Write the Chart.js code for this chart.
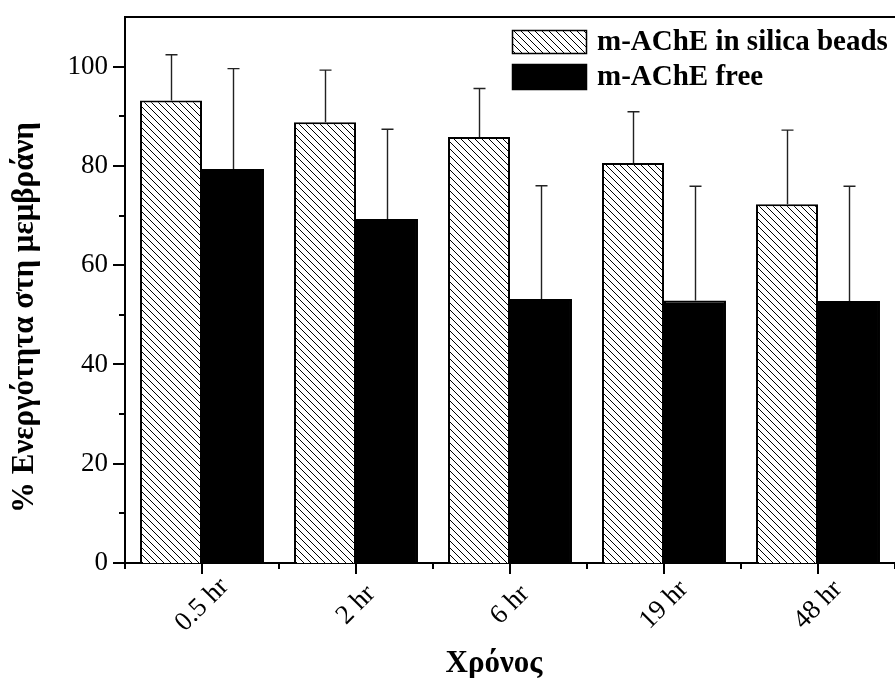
<!DOCTYPE html>
<html><head><meta charset="utf-8">
<script src="https://cdn.jsdelivr.net/npm/chart.js@4"></script>
<style>html,body{margin:0;padding:0;background:#fff}#wrap{width:895px;height:678px}</style>
</head><body><div id="wrap"><canvas id="c" width="895" height="678"></canvas></div>
<script>
const categories = ['0.5 hr', '2 hr', '6 hr', '19 hr', '48 hr'];
const silicaValues = [93.2, 88.8, 85.8, 80.6, 72.3];
const silicaErrors = [9.2, 10.5, 9.8, 10.3, 14.9];
const freeValues = [79.4, 69.3, 53.2, 52.9, 52.8];
const freeErrors = [20.2, 18.1, 22.8, 23.0, 23.1];
const yTickValues = [0, 20, 40, 60, 80, 100];
const seriesLabels = ['m-AChE in silica beads', 'm-AChE free'];
const xTitle = 'Χρόνος';
const yTitle = '% Ενεργότητα στη μεμβράνη';

const SERIF = '"Liberation Serif", "Times New Roman", serif';

function makeHatch() {
  const s = 7;
  const c = document.createElement('canvas');
  c.width = s; c.height = s;
  const g = c.getContext('2d');
  g.fillStyle = '#fff'; g.fillRect(0, 0, s, s);
  g.strokeStyle = '#000'; g.lineWidth = 1;
  g.beginPath();
  g.moveTo(-1, -1); g.lineTo(s + 1, s + 1);
  g.moveTo(-1, s - 1); g.lineTo(1, s + 1);
  g.moveTo(s - 1, -1); g.lineTo(s + 1, 1);
  g.stroke();
  return g.createPattern(c, 'repeat');
}
const hatch = makeHatch();

const deco = {
  id: 'deco',
  afterDraw(chart) {
    const ctx = chart.ctx;
    const a = chart.chartArea;
    const xs = chart.scales.x, ys = chart.scales.y;
    ctx.save();
    ctx.strokeStyle = '#000';
    ctx.lineWidth = 2;
    // frame top
    ctx.beginPath();
    ctx.moveTo(a.left - 1, a.top); ctx.lineTo(a.right, a.top);
    ctx.stroke();
    // y ticks
    ctx.beginPath();
    ys.ticks.forEach(t => {
      if (t.value >= ys.max) return;
      const py = Math.round(ys.getPixelForValue(t.value));
      const len = yTickValues.includes(t.value) ? 12 : 6;
      ctx.moveTo(a.left, py); ctx.lineTo(a.left - len, py);
    });
    // x ticks
    const n = categories.length;
    const step = (xs.getPixelForValue(1) - xs.getPixelForValue(0));
    for (let i = 0; i < n; i++) {
      const cx = Math.round(xs.getPixelForValue(i));
      ctx.moveTo(cx, a.bottom); ctx.lineTo(cx, a.bottom + 11);
    }
    for (let i = 0; i <= n; i++) {
      const bx = Math.round(xs.getPixelForValue(i) - step / 2);
      ctx.moveTo(bx, a.bottom); ctx.lineTo(bx, a.bottom + 6);
    }
    ctx.stroke();
    // error bars
    ctx.lineWidth = 1.4;
    ctx.strokeStyle = '#222';
    chart.data.datasets.forEach((ds, di) => {
      const meta = chart.getDatasetMeta(di);
      meta.data.forEach((el, i) => {
        const topV = ds.data[i] + ds.errors[i];
        const ty = ys.getPixelForValue(topV);
        const x = Math.round(el.x) + 0.5;
        ctx.beginPath();
        ctx.moveTo(x, el.y); ctx.lineTo(x, ty);
        ctx.moveTo(x - 6, ty); ctx.lineTo(x + 6, ty);
        ctx.stroke();
      });
    });
    // x labels (rotated)
    ctx.fillStyle = '#000';
    ctx.font = '27px ' + SERIF;
    ctx.textAlign = 'center';
    ctx.textBaseline = 'middle';
    categories.forEach((lab, i) => {
      const cx = xs.getPixelForValue(i);
      ctx.save();
      ctx.translate(cx, a.bottom + 42);
      ctx.rotate(-Math.PI / 4);
      ctx.fillText(lab, 0, 0);
      ctx.restore();
    });
    // axis titles
    ctx.font = 'bold 31px ' + SERIF;
    ctx.textAlign = 'center';
    ctx.textBaseline = 'alphabetic';
    ctx.fillText(xTitle, 494, 672);
    ctx.save();
    ctx.font = 'bold 31px ' + SERIF;
    ctx.translate(33, 513);
    ctx.rotate(-Math.PI / 2);
    ctx.textAlign = 'left';
    ctx.fillText(yTitle, 0, 0);
    ctx.restore();
    // legend
    const rows = [{y: 30, h: 24}, {y: 64, h: 26}];
    chart.data.datasets.forEach((ds, di) => {
      const r = rows[di];
      ctx.fillStyle = ds.backgroundColor;
      ctx.fillRect(512, r.y, 75, r.h);
      ctx.lineWidth = 1.5;
      ctx.strokeStyle = '#000';
      ctx.strokeRect(512.5, r.y + 0.5, 74, r.h - 1);
      ctx.fillStyle = '#000';
      ctx.font = 'bold 29px ' + SERIF;
      ctx.textAlign = 'left';
      ctx.textBaseline = 'middle';
      ctx.fillText(ds.label, 597, r.y + r.h / 2 + 1);
    });
    ctx.restore();
  }
};

new Chart(document.getElementById('c'), {
  type: 'bar',
  data: {
    labels: categories,
    datasets: [
      {label: seriesLabels[0], data: silicaValues, errors: silicaErrors, backgroundColor: hatch, borderColor: '#000', borderWidth: 2},
      {label: seriesLabels[1], data: freeValues, errors: freeErrors, backgroundColor: '#000', borderColor: '#000', borderWidth: 2}
    ]
  },
  options: {
    responsive: false,
    animation: false,
    devicePixelRatio: 1,
    layout: {padding: {top: 17, left: 0, right: 0, bottom: 0}},
    datasets: {bar: {categoryPercentage: 0.805, barPercentage: 1}},
    plugins: {legend: {display: false}, tooltip: {enabled: false}},
    scales: {
      x: {
        grid: {display: false, drawTicks: false},
        border: {display: true, color: '#000', width: 2},
        ticks: {display: false},
        afterFit(s) { s.height = 115; s.paddingLeft = 0; s.paddingRight = 0; }
      },
      y: {
        min: 0, max: 110,
        grid: {display: false, drawTicks: false},
        border: {display: true, color: '#000', width: 2},
        ticks: {stepSize: 10, padding: 17, color: '#000', font: {family: SERIF, size: 27},
          callback: v => yTickValues.includes(v) ? String(v) : ''},
        afterFit(s) { s.width = 125; s.paddingTop = 0; s.paddingBottom = 0; }
      }
    }
  },
  plugins: [deco]
});
</script>
</body></html>
